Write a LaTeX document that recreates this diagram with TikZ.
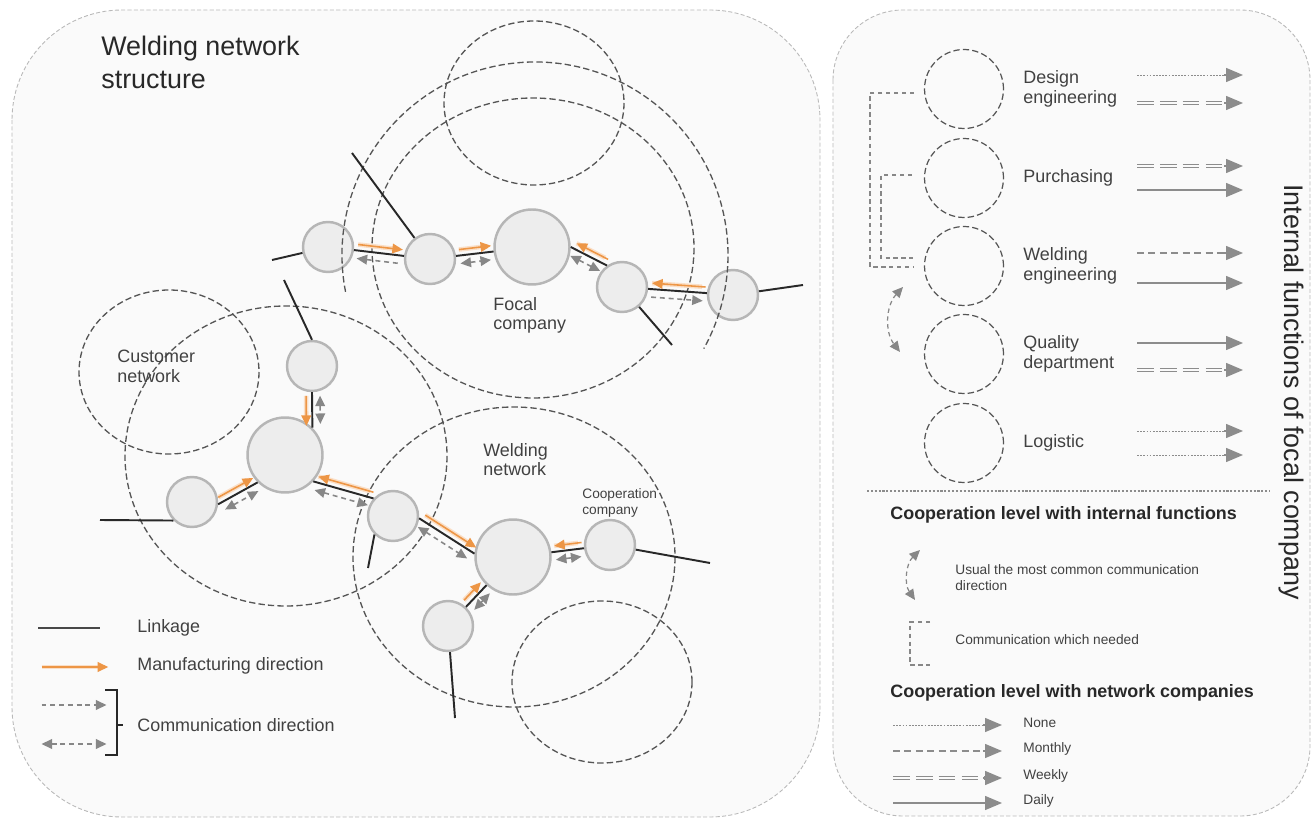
\documentclass[tikz,border=0pt]{standalone}
\usepackage{fontspec}
\setmainfont{Liberation Sans}
\usetikzlibrary{calc,arrows.meta}

\definecolor{panelfill}{RGB}{250,250,250}
\definecolor{panelline}{RGB}{185,185,185}
\definecolor{zoneline}{RGB}{85,85,85}
\definecolor{firmfill}{RGB}{237,237,237}
\definecolor{firmline}{RGB}{182,182,182}
\definecolor{linkcol}{RGB}{40,40,40}
\definecolor{mfgcol}{RGB}{237,150,70}
\definecolor{comcol}{RGB}{135,135,135}
\definecolor{lvlcol}{RGB}{140,140,140}
\definecolor{textcol}{RGB}{65,65,65}
\definecolor{headcol}{RGB}{40,40,40}

% offset copy of the line between two nodes
\newcommand{\along}[4]{%
  \path (#2) -- (#3) coordinate[pos=0] (alA) coordinate[pos=1] (alB);
  \draw[#1] ($(alA)!#4!90:(alB)$) -- ($(alB)!#4!-90:(alA)$);}

\tikzset{
  panel/.style={draw=panelline, fill=panelfill, line width=0.5pt, dash pattern=on 2.3pt off 1.3pt},
  zone/.style={draw=zoneline, line width=0.75pt, dash pattern=on 3.6pt off 1.8pt},
  firm/.style={circle, draw=firmline, fill=firmfill, line width=1.4pt, minimum size=1cm, inner sep=0pt},
  focal/.style={firm, minimum size=1.5cm},
  func/.style={circle, draw=zoneline, line width=0.7pt, dash pattern=on 3.6pt off 1.8pt, minimum size=1.58cm, inner sep=0pt},
  link/.style={draw=linkcol, line width=1.1pt},
  mfg/.style={draw=mfgcol, line width=0.9pt, >={Triangle[length=6pt,width=5.5pt]}, shorten <=2pt, shorten >=1pt,
    preaction={draw=mfgcol!30, line width=2.6pt, -, shorten >=3pt}},
  com/.style={draw=comcol, line width=0.9pt, dash pattern=on 2.8pt off 2.2pt, >={Triangle[length=6pt,width=5.5pt]}, shorten <=2pt, shorten >=2pt},
  need/.style={draw=comcol, line width=0.7pt, dash pattern=on 2.5pt off 2pt},
  lvl/.style={draw=lvlcol, line width=1.2pt},
  lvlnone/.style={lvl, line width=0.5pt, dash pattern=on 1pt off 0.8pt},
  lvlmonth/.style={lvl, line width=0.8pt, dash pattern=on 4pt off 2.5pt},
  lvlweek/.style={lvl, line width=0.8pt, double=panelfill, double distance=1.2pt, dash pattern=on 9.5pt off 3.5pt},
  lvlday/.style={lvl},
  lvltip/.style={lvl, line width=0.8pt, -{Triangle[length=0.34cm,width=0.28cm]}},
  txt/.style={inner sep=0pt, align=left, text=textcol},
  small/.style={txt, font=\fontsize{7.8}{9.1}\selectfont},
  heading/.style={inner sep=0pt, anchor=west, text=headcol, font=\fontsize{10.2}{12}\selectfont\bfseries}
}

\begin{document}
\begin{tikzpicture}[x=0.02cm, y=-0.02cm, font=\fontsize{10.2}{11}\selectfont]
  \useasboundingbox (0,0) rectangle (1314,820);

  % the two panels
  \draw[panel, rounded corners=2.2cm] (12,10) rectangle (820,817);
  \draw[panel, rounded corners=1.4cm] (833,10) rectangle (1310,816);

  % companies of the network
  \node[firm] (n1) at (328,247) {};
  \node[firm] (n2) at (430,259) {};
  \node[focal] (fc) at (532,247) {};
  \node[firm] (n4) at (622,287) {};
  \node[firm] (n5) at (733,295) {};
  \node[firm] (ct) at (312,366) {};
  \node[focal] (ch) at (285,455) {};
  \node[firm] (cl) at (192,502) {};
  \node[firm] (wj) at (393,516) {};
  \node[focal] (wh) at (513,557) {};
  \node[firm] (wc) at (610,545) {};
  \node[firm] (wb) at (448,626) {};

  % network borders
  \draw[zone] (534,103) circle[x radius=90, y radius=82];
  \draw[zone] (535,255) ++(-191:193) arc[start angle=-191, end angle=29, radius=193];
  \draw[zone] (533,248) circle[x radius=161, y radius=150];
  \draw[zone] (169,372) circle[x radius=90, y radius=82];
  \draw[zone] (286,456) circle[x radius=161, y radius=150];
  \draw[zone] (514,557) circle[x radius=161, y radius=150];
  \draw[zone] (602,682) circle[x radius=90, y radius=81];

  % linkage
  \coordinate (e1) at (272,260);
  \coordinate (e2) at (352,153);
  \coordinate (e4) at (672,345);
  \coordinate (e5) at (803,285);
  \coordinate (e6) at (284,280);
  \coordinate (e7) at (100,520);
  \coordinate (e8) at (368,568);
  \coordinate (e9) at (710,563);
  \coordinate (e10) at (455,718);
  \draw[link] (n1) -- (n2) -- (fc);
  \draw[link] (fc.east) -- (n4.125);
  \draw[link] (n4) -- (n5);
  \draw[link] (e1) -- (n1);
  \draw[link] (e2) -- (n2);
  \draw[link] (n4) -- (e4);
  \draw[link] (n5) -- (e5);
  \draw[link] (e6) -- (ct.north);
  \draw[link] (ct.south) -- (ch.45);
  \draw[link] (e7) -- (cl.225);
  \draw[link] (cl.-5) -- (ch.225);
  \draw[link] (ch.-43) -- (wj.138);
  \draw[link] (wj.225) -- (e8);
  \draw[link] (wj.-5) -- (wh.175);
  \draw[link] (wh) -- (wc) -- (e9);
  \draw[link] (wb) -- (wh);
  \draw[link] (wb) -- (e10);

  % manufacturing and communication
  \along{mfg,->}{n1}{n2}{0.12cm}
  \along{com,<-}{n1}{n2}{-0.16cm}
  \along{mfg,->}{n2}{fc}{0.12cm}
  \along{com,<->}{n2}{fc}{-0.16cm}
  \along{mfg,<-}{fc.east}{n4.125}{0.12cm}
  \along{com,<->}{fc.east}{n4.125}{-0.16cm}
  \along{mfg,<-}{n4}{n5}{0.12cm}
  \along{com,->}{n4}{n5}{-0.16cm}
  \along{mfg,->}{ct.south}{ch.45}{-0.12cm}
  \along{com,<->}{ct.south}{ch.45}{0.16cm}
  \along{mfg,->}{cl.-5}{ch.225}{0.12cm}
  \along{com,<->}{cl.-5}{ch.225}{-0.16cm}
  \along{mfg,<-}{ch.-43}{wj.138}{0.12cm}
  \along{com,<->}{ch.-43}{wj.138}{-0.16cm}
  \along{mfg,->}{wj.-5}{wh.175}{0.12cm}
  \along{com,<->}{wj.-5}{wh.175}{-0.16cm}
  \along{mfg,<-}{wh}{wc}{0.12cm}
  \along{com,<->}{wh}{wc}{-0.16cm}
  \along{mfg,->}{wb}{wh}{0.12cm}
  \along{com,<->}{wb}{wh}{-0.16cm}

  % texts of the network
  \node[txt, anchor=north west, text=headcol, font=\fontsize{15.3}{18.8}\selectfont] (title) at (101,36) {Welding network\\structure};
  \node[txt, anchor=north west] (fct) at (493,297) {Focal\\company};
  \node[txt, anchor=north west] (cst) at (117,350) {Customer\\network};
  \node[txt, anchor=north west] (wnt) at (483,443) {Welding\\network};
  \node[small, anchor=north west] (cop) at (582,488) {Cooperation\\company};

  % legend of the network
  \node[txt, anchor=west] (lk) at (137,628) {Linkage};
  \node[txt, anchor=west] (mf) at (137,666) {Manufacturing direction};
  \node[txt, anchor=west] (cm) at (137,725) {Communication direction};
  \draw[link, line width=1.4pt, draw=linkcol!85] (lk.west) ++(-99,0) -- ++(62,0);
  \draw[mfg, ->] (mf.west) ++(-99,1) -- ++(72,0);
  \draw[com, ->] (cm.west) ++(-99,-20) -- ++(72,0);
  \draw[com, <->] (cm.west) ++(-99,19) -- ++(72,0);
  \draw[linkcol, line width=0.9pt] (cm.west) ++(-32,-35) -- ++(12,0) -- ++(0,65) -- ++(-12,0);
  \draw[linkcol, line width=0.9pt] (cm.west) ++(-20,0) -- ++(6,0);

  % internal functions of the focal company
  \foreach \nm/\y/\txt in {dsg/89/{Design\\engineering}, pur/178/Purchasing, wld/266/{Welding\\engineering}, qua/354/{Quality\\department}, lgs/443/Logistic}{
    \node[func] (\nm) at (964,\y) {};
    \node[txt, anchor=west] (\nm-t) at (1023,\y) {\txt};}
  \foreach \y/\kind in {75/lvlnone, 103/lvlweek, 166/lvlweek, 190/lvlday, 253/lvlmonth, 283/lvlday, 343/lvlday, 370/lvlweek, 431/lvlnone, 455/lvlnone}{
    \draw[\kind] (1137,\y) -- (1228,\y);
    \draw[lvltip] (1224,\y) -- (1243,\y);}
  \draw[need] ([xshift=-0.2cm,yshift=-0.08cm]dsg.west) -- ++(-44,0) |- ([xshift=-0.22cm,yshift=-0.02cm]wld.west);
  \draw[need] ([xshift=-0.24cm,yshift=0.06cm]pur.west) -- ++(-31,0) |- ([xshift=-0.22cm,yshift=0.16cm]wld.west);
  \coordinate (ua) at (903,287);
  \coordinate (ub) at (900,352);
  \draw[need, <->, >={Triangle[length=6pt,width=5.5pt]}] (ua) to[bend right=40] (ub);
  \node[rotate=-90, text=headcol, font=\fontsize{15.3}{18}\selectfont] (side) at (1291,392) {Internal functions of focal company};

  % cooperation levels
  \draw[lvlcol, line width=0.6pt, dash pattern=on 1.2pt off 1pt] (867,491) -- (1270,491);
  \node[heading] (hint) at (890,515) {Cooperation level with internal functions};
  \node[small, anchor=north west] (us) at (955,564) {Usual the most common communication\\direction};
  \draw[need, <->, >={Triangle[length=6pt,width=5.5pt]}] ([shift={(-35,-14)}]us.north west) to[bend right=40] ([shift={(-40,36)}]us.north west);
  \node[small, anchor=west] (nd) at (955,640) {Communication which needed};
  \draw[need] (nd.west) ++(-25,-18) -- ++(-20,0) -- ++(0,43) -- ++(20,0);
  \node[heading] (hnet) at (890,693) {Cooperation level with network companies};
  \foreach \y/\kind/\txt in {725/lvlnone/None, 751/lvlmonth/Monthly, 778/lvlweek/Weekly, 803/lvlday/Daily}{
    \draw[\kind] (893,\y) -- (987,\y);
    \draw[lvltip] (983,\y) -- (1002,\y);
    \node[small, anchor=west] (\txt) at (1023,\y-2) {\txt};}
\end{tikzpicture}
\end{document}
